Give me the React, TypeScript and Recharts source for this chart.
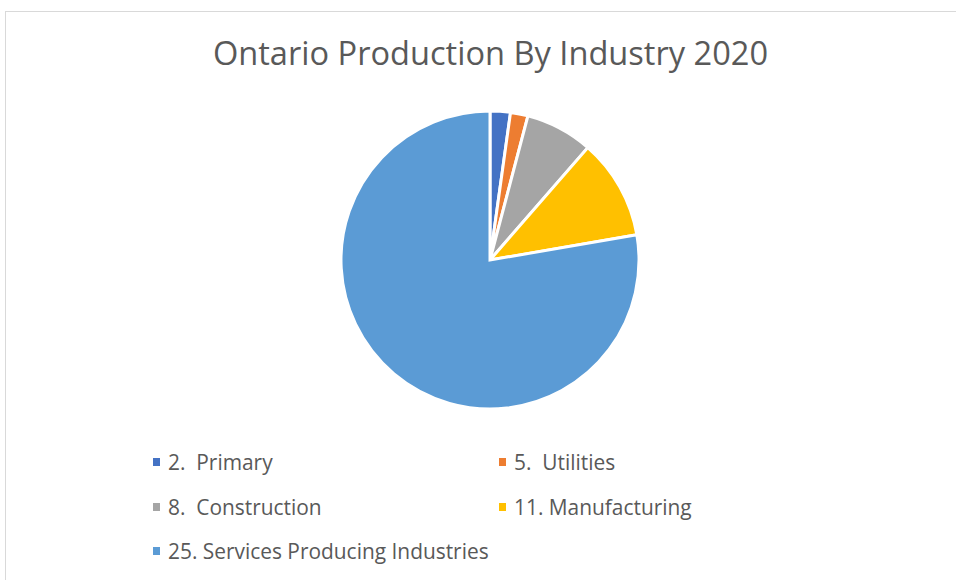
import React from "react";
import { PieChart, Pie, Cell, Legend } from "recharts";

const categories = [
  "2.  Primary",
  "5.  Utilities",
  "8.  Construction",
  "11. Manufacturing",
  "25. Services Producing Industries",
];
const values = [2.2, 1.9, 7.3, 10.9, 77.7];
const colors = ["#4472C4", "#ED7D31", "#A5A5A5", "#FFC000", "#5B9BD5"];

const data = categories.map((name, i) => ({ name, value: values[i] }));

const FONT = "'Open Sans', 'Noto Sans', sans-serif";

const renderLegend = () => {
  return (
    <div
      style={{
        display: "grid",
        gridTemplateColumns: "346px 346px",
        fontFamily: FONT,
        fontSize: 20.9,
        color: "#595959",
      }}
    >
      {data.map((entry, i) => (
        <div
          key={entry.name}
          style={{ display: "flex", alignItems: "center", height: 44.5, whiteSpace: "pre" }}
        >
          <span
            style={{
              display: "inline-block",
              width: 7,
              height: 8,
              background: colors[i],
              marginRight: 8,
            }}
          />
          <span>{entry.name}</span>
        </div>
      ))}
    </div>
  );
};

export default function App() {
  return (
    <div style={{ position: "absolute", left: 0, top: 0, width: 956, height: 580, background: "#fff", overflow: "hidden" }}>
      <div
        style={{
          position: "absolute",
          left: 5,
          top: 11,
          width: 1000,
          height: 1000,
          border: "1px solid #d9d9d9",
          boxSizing: "border-box",
        }}
      />
      <div
        style={{
          position: "absolute",
          left: 0,
          top: 31,
          width: 981,
          textAlign: "center",
          fontFamily: FONT,
          fontSize: 32.6,
          color: "#595959",
          lineHeight: "44px",
        }}
      >
        Ontario Production By Industry 2020
      </div>
      <div style={{ position: "absolute", left: 0, top: 0 }}>
        <PieChart width={956} height={580} margin={{ top: 0, right: 0, bottom: 0, left: 0 }}>
          <Pie
            data={data}
            dataKey="value"
            nameKey="name"
            cx={490}
            cy={260}
            outerRadius={149}
            startAngle={90}
            endAngle={-270}
            stroke="#ffffff"
            strokeWidth={3}
            isAnimationActive={false}
          >
            {data.map((d, i) => (
              <Cell key={d.name} fill={colors[i]} />
            ))}
          </Pie>
          <Legend
            content={renderLegend}
            wrapperStyle={{ position: "absolute", left: 153, top: 440, width: 700 }}
          />
        </PieChart>
      </div>
    </div>
  );
}
